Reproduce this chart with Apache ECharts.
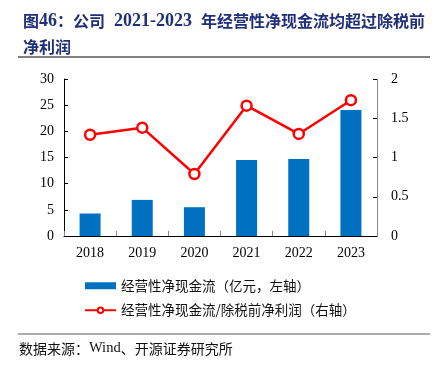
<!DOCTYPE html>
<html>
<head>
<meta charset="utf-8">
<script src="https://cdn.jsdelivr.net/npm/echarts@6/dist/echarts.min.js"></script>
<style>
html, body { margin: 0; padding: 0; background: #fff; }
#chart { width: 437px; height: 369px; }
</style>
</head>
<body>
<div id="chart"></div>
<script>
var years = ['2018', '2019', '2020', '2021', '2022', '2023'];
// 经营性净现金流（亿元）
var cashFlow = [4.3, 6.9, 5.5, 14.5, 14.7, 24.1];
// 经营性净现金流/除税前净利润
var ratio = [1.29, 1.38, 0.79, 1.66, 1.30, 1.73];

var serif = '"Liberation Serif", "Times New Roman", serif';
var cjk = '"Noto Sans CJK SC", sans-serif';

var chart = echarts.init(document.getElementById('chart'));

var option = {
	animation: false,
	title: {
		text: '{c|图}{n|46}{c|：公司}{n|  2021-2023  }{c|年经营性净现金流均超过除税前}\n{c|净利润}',
		left: 18,
		top: 3,
		textStyle: {
			rich: {
				c: {
					color: '#1f2f78',
					fontFamily: cjk,
					fontWeight: 'bold',
					fontSize: 16,
					lineHeight: 26
				},
				n: {
					color: '#1f2f78',
					fontFamily: serif,
					fontWeight: 'bold',
					fontSize: 18,
					lineHeight: 26
				}
			}
		}
	},
	grid: {
		left: 64,
		right: 60,
		top: 79,
		bottom: 133,
		containLabel: false
	},
	legend: {
		orient: 'vertical',
		left: 79,
		top: 274,
		itemWidth: 31,
		itemHeight: 7,
		itemGap: 11,
		textStyle: {
			fontFamily: cjk,
			fontSize: 13.5,
			color: '#111'
		},
		data: [
			{ name: '经营性净现金流（亿元，左轴）', icon: 'rect' },
			{ name: '经营性净现金流/除税前净利润（右轴）' }
		]
	},
	xAxis: {
		type: 'category',
		data: years,
		axisLine: { lineStyle: { color: '#000', width: 1 } },
		axisTick: { show: true, inside: true, length: 5, lineStyle: { color: '#888' } },
		axisLabel: {
			fontFamily: serif,
			fontSize: 14,
			color: '#000',
			margin: 10
		}
	},
	yAxis: [
		{
			type: 'value',
			min: 0,
			max: 30,
			interval: 5,
			splitLine: { show: false },
			axisLine: { show: true, lineStyle: { color: '#000' } },
			axisTick: { show: true, inside: true, length: 4, lineStyle: { color: '#000' } },
			axisLabel: {
				fontFamily: serif,
				fontSize: 14,
				color: '#000',
				margin: 10
			}
		},
		{
			type: 'value',
			min: 0,
			max: 2,
			interval: 0.5,
			splitLine: { show: false },
			axisLine: { show: true, lineStyle: { color: '#888' } },
			axisTick: { show: true, inside: true, length: 4, lineStyle: { color: '#000' } },
			axisLabel: {
				fontFamily: serif,
				fontSize: 14,
				color: '#000',
				margin: 14
			}
		}
	],
	series: [
		{
			name: '经营性净现金流（亿元，左轴）',
			type: 'bar',
			data: cashFlow,
			barWidth: 21,
			itemStyle: { color: '#0070c0' }
		},
		{
			name: '经营性净现金流/除税前净利润（右轴）',
			type: 'line',
			yAxisIndex: 1,
			data: ratio,
			symbol: 'circle',
			symbolSize: 10,
			lineStyle: { color: '#ff0000', width: 2.5 },
			itemStyle: { color: '#fff', borderColor: '#ff0000', borderWidth: 2.5 }
		}
	],
	graphic: [
		{
			type: 'line',
			shape: { x1: 18, y1: 57, x2: 430, y2: 57 },
			style: { stroke: '#808080', lineWidth: 2 }
		},
		{
			type: 'line',
			shape: { x1: 18, y1: 334, x2: 430, y2: 334 },
			style: { stroke: '#555', lineWidth: 1 }
		},
		{
			type: 'text',
			left: 19,
			top: 341,
			style: {
				text: '{c|数据来源：}{n|Wind}{c|、开源证券研究所}',
				rich: {
					c: { fontFamily: cjk, fontSize: 14, fill: '#111' },
					n: { fontFamily: serif, fontSize: 14.5, fill: '#111' }
				}
			}
		}
	]
};

chart.setOption(option);
</script>
</body>
</html>
